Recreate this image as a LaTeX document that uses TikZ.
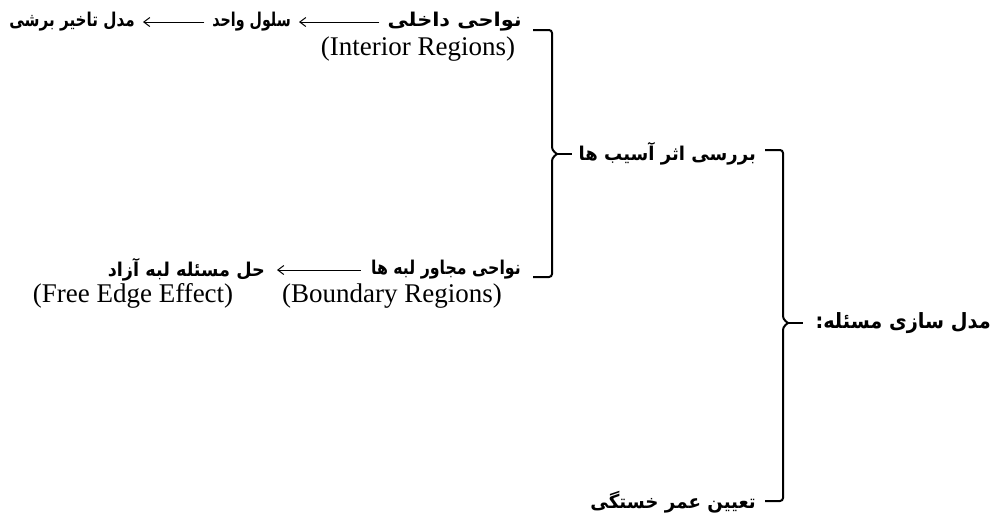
\documentclass[tikz,border=0pt]{standalone}
\usepackage{fontspec}
\setmainfont{Liberation Serif}
\newfontfamily\arabicfont[Script=Arabic]{DejaVu Sans}
\TeXXeTstate=1
\usetikzlibrary{arrows.meta}
\tikzset{
  ar/.style={font=\arabicfont\bfseries\fontsize{19}{22}\selectfont, inner sep=0pt, anchor=east},
  arbig/.style={font=\arabicfont\bfseries\fontsize{21}{24}\selectfont, inner sep=0pt, anchor=east},
  lat/.style={font=\fontsize{27}{30}\selectfont, inner sep=0pt},
  flow/.style={-{Straight Barb[length=6pt,width=9pt]}, line width=1pt},
  brace/.style={line width=2pt, rounded corners=3pt}
}
\begin{document}
\begin{tikzpicture}[x=1pt,y=-1pt]
\useasboundingbox (0,0) rectangle (999,523);
% top row
\node[ar] (nd) at (522,22) {\scalebox{1.1}[1]{\beginR نواحی داخلی\endR}};
\node[ar] (sv) at (291,22) {\scalebox{0.75}[1]{\beginR سلول واحد\endR}};
\node[ar] (mt) at (135,22) {\scalebox{0.8}[1]{\beginR مدل تاخیر برشی\endR}};
\node[lat] (ir) at (418,49) {(Interior Regions)};
\draw[flow] ([xshift=-8pt]nd.west) -- ([xshift=8pt]sv.east);
\draw[flow] ([xshift=-8pt]sv.west) -- ([xshift=8pt]mt.east);
% middle
\node[ar] (ba) at (756,154) {\scalebox{0.95}[1]{\beginR بررسی اثر آسیب ها\endR}};
% lower row
\node[ar] (nm) at (521,270) {\scalebox{0.83}[1]{\beginR نواحی مجاور لبه ها\endR}};
\node[ar] (hm) at (265,270) {\scalebox{0.93}[1]{\beginR حل مسئله لبه آزاد\endR}};
\node[lat] (br) at (392,296) {(Boundary Regions)};
\node[lat] (fe) at (133,296) {(Free Edge Effect)};
\draw[flow] ([xshift=-10pt]nm.west) -- ([xshift=12pt]hm.east);
% right
\node[arbig] (ms) at (991,323) {\scalebox{0.92}[1]{\beginR مدل سازی مسئله:\endR}};
\node[ar] (ta) at (756,502) {\scalebox{0.96}[1]{\beginR تعیین عمر خستگی\endR}};
% brace 1
\coordinate (b1t) at (533,30);
\coordinate (b1b) at (533,277);
\coordinate (b1x) at (572,154);
\draw[brace] (b1t) -- (552,30) -- (552,150) -- (557,154);
\draw[brace] (b1b) -- (552,277) -- (552,158) -- (557,154);
\draw[line width=2pt] (556,154) -- (b1x);
% brace 2
\coordinate (b2t) at (765,150);
\coordinate (b2b) at (765,501);
\coordinate (b2x) at (803,323);
\draw[brace] (b2t) -- (783,150) -- (783,319) -- (788,323);
\draw[brace] (b2b) -- (783,501) -- (783,327) -- (788,323);
\draw[line width=2pt] (787,323) -- (b2x);
\end{tikzpicture}
\end{document}
